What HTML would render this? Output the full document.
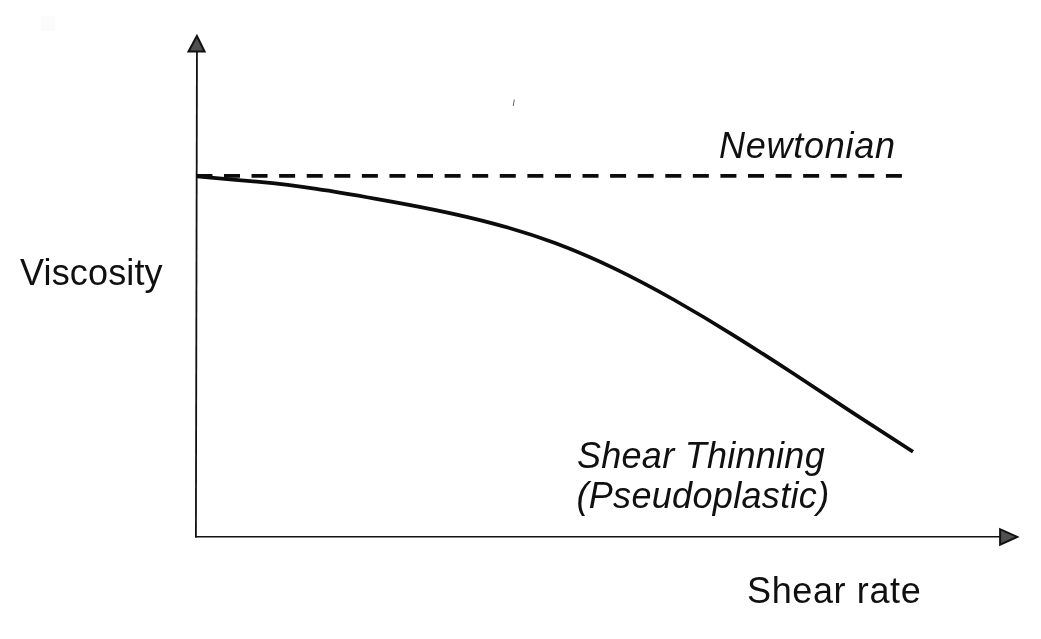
<!DOCTYPE html>
<html lang="en">
<head>
<meta charset="utf-8">
<title>Viscosity vs Shear rate</title>
<style>
  html, body { margin: 0; padding: 0; background: #ffffff; }
  body { width: 1041px; height: 639px; overflow: hidden; position: relative; }
  svg { position: absolute; left: 0; top: 0; display: block; }
  text { font-family: "Liberation Sans", Arial, Helvetica, sans-serif; font-size: 36px; fill: #101010; }
  .it { font-style: italic; }
</style>
</head>
<body>
<svg width="1041" height="639" viewBox="0 0 1041 639">
  <rect x="0" y="0" width="1041" height="639" fill="#ffffff"/>

  <!-- axes -->
  <line x1="196.95" y1="50" x2="195.9" y2="537.4" stroke="#111" stroke-width="1.8"/>
  <line x1="195.1" y1="536.8" x2="1001" y2="536.7" stroke="#111" stroke-width="1.5"/>

  <!-- arrow heads -->
  <polygon points="196.9,36 188.5,51.6 204.6,51.6" fill="#505050" stroke="#111" stroke-width="2" stroke-linejoin="miter"/>
  <polygon points="1017.2,536.9 1000.1,529.2 1000.1,544.7" fill="#505050" stroke="#111" stroke-width="2" stroke-linejoin="miter"/>

  <!-- Newtonian dashed line -->
  <line x1="196.4" y1="175.95" x2="902" y2="175.95" stroke="#0c0c0c" stroke-width="3.7" stroke-dasharray="16 11.58"/>

  <!-- shear thinning curve -->
  <path d="M197.0,176.4 C216.9,178.3 236.8,179.9 256.7,181.7 C276.6,183.6 296.4,185.9 316.3,188.9 C336.2,191.8 356.1,195.3 376.0,198.9 C395.9,202.4 415.8,206.1 435.7,210.1 C455.6,214.2 475.4,218.7 495.3,224.1 C515.2,229.4 535.1,235.6 555.0,243.0 C574.9,250.4 594.8,259.0 614.7,268.6 C634.6,278.2 654.4,288.7 674.3,300.0 C694.2,311.3 714.1,323.2 734.0,335.6 C753.9,348.0 773.8,360.8 793.7,373.8 C813.6,386.8 833.4,400.0 853.3,413.1 C873.2,426.1 893.1,439.1 913.0,451.8"
        fill="none" stroke="#0c0c0c" stroke-width="3.7" stroke-linejoin="round" stroke-linecap="butt"/>

  <!-- faint scan smudge -->
  <rect x="41" y="16" width="14" height="15" fill="#fbfbfb"/>

  <!-- speck -->
  <line x1="514.3" y1="99.5" x2="513.2" y2="106" stroke="#666" stroke-width="1"/>

  <!-- labels -->
  <text x="20" y="285.4" style="letter-spacing:0.15px">Viscosity</text>
  <text class="it" x="719" y="157.6" style="letter-spacing:0.73px">Newtonian</text>
  <text class="it" x="577" y="468.2" style="letter-spacing:0.27px">Shear Thinning</text>
  <text class="it" x="576.4" y="508.2" style="letter-spacing:0.33px">(Pseudoplastic)</text>
  <text x="747" y="602.9" style="letter-spacing:0.62px">Shear rate</text>
</svg>
</body>
</html>
